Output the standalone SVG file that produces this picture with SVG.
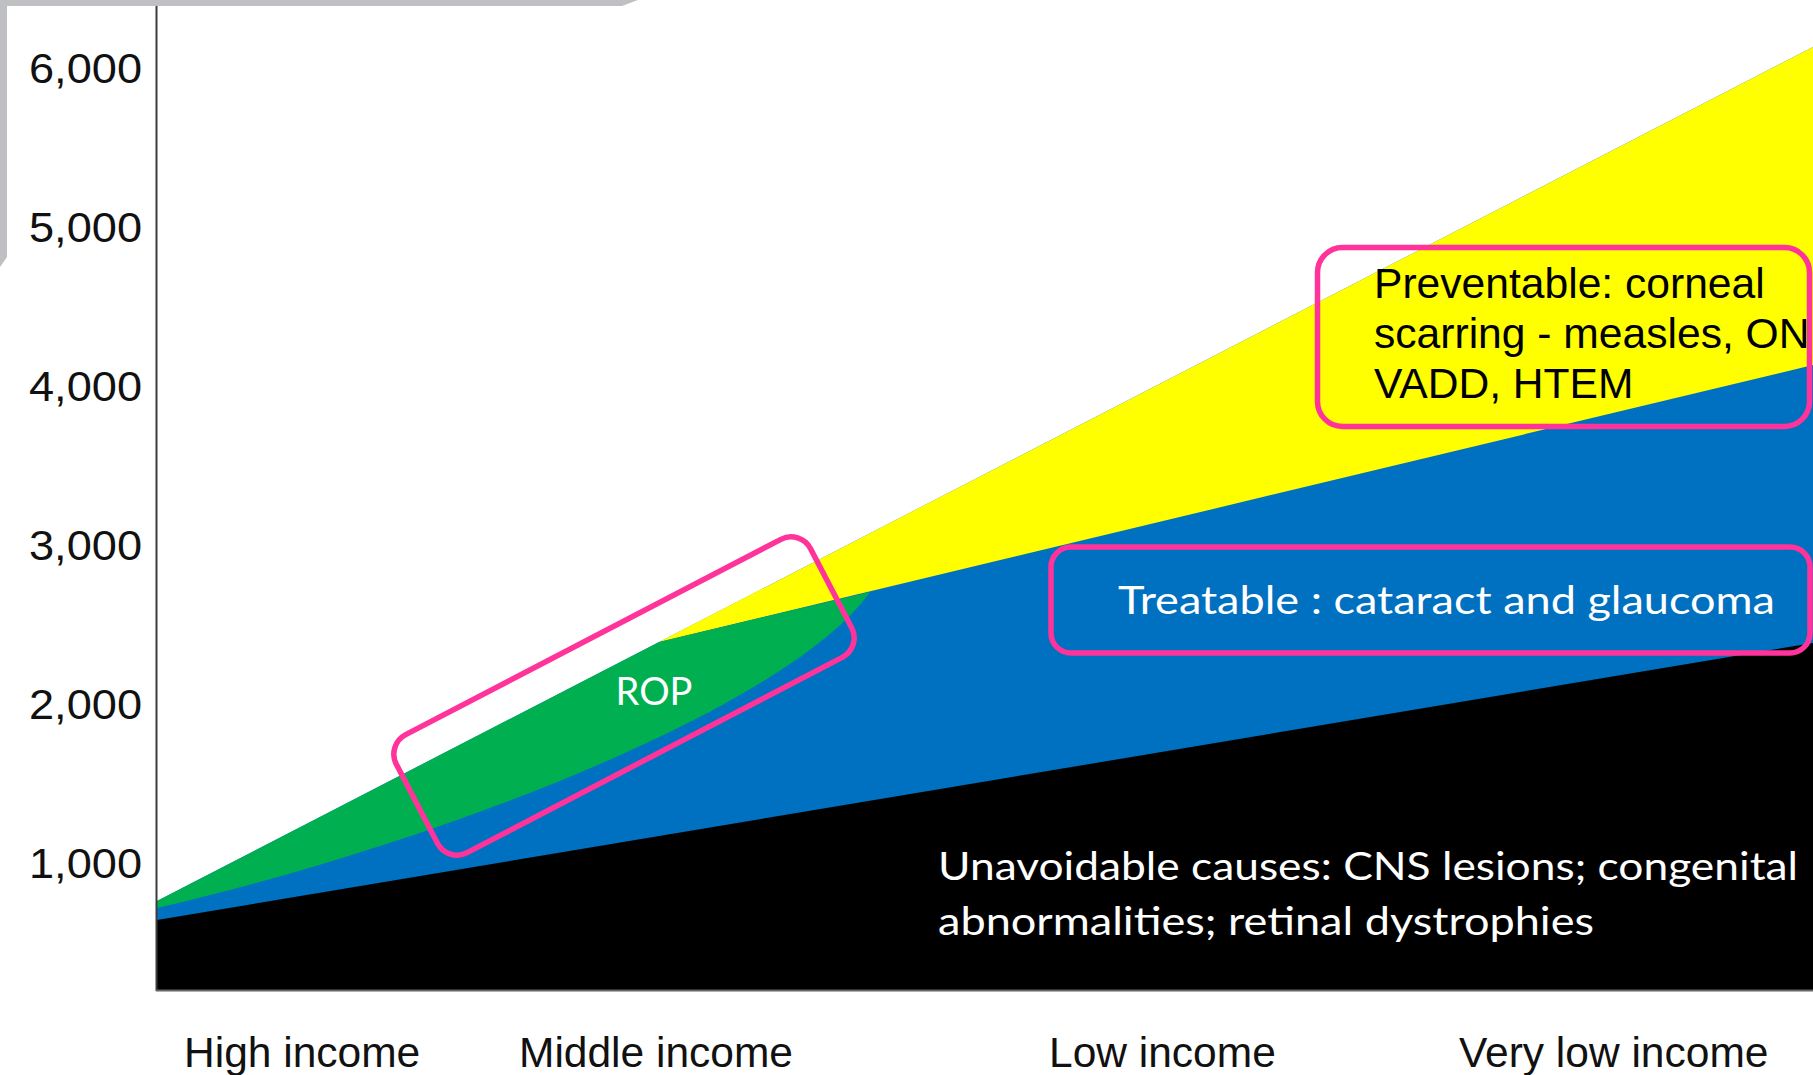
<svg xmlns="http://www.w3.org/2000/svg" width="1813" height="1075" viewBox="0 0 1813 1075">
  <style>
    .ax { font-family: "Liberation Sans", Arial, sans-serif; font-size: 42.5px; fill: #111; }
    .yl { font-family: "Liberation Sans", Arial, sans-serif; font-size: 42px; fill: #111; text-anchor: end; }
    .wt { font-family: Lato, "Open Sans", sans-serif; font-size: 38px; fill: #ffffff; }
    .bt { font-family: "Liberation Sans", Arial, sans-serif; font-size: 42.6px; fill: #000; }
    .hl { fill: none; stroke: #FF3399; stroke-width: 5.5; }
  </style>
  <rect x="0" y="0" width="1813" height="1075" fill="#ffffff"/>
  <polygon id="frame" points="0,0 638,0 622,6 7,6 7,257 0,267" fill="#BFC0C4"/>

  <g id="areas">
    <polygon id="blue" points="157,901 1813,47 1813,990 157,990" fill="#0070C0"/>
    <polygon id="yellow" points="659,642 1813,47 1813,365" fill="#FFFF00"/>
    <path id="green" d="M157,901 L659,642 L870,592 C790,705 450,840 157,908 Z" fill="#00B050"/>
    <polygon id="black" points="157,920 1813,643 1813,990 157,990" fill="#000000"/>
  </g>

  <g id="axes" stroke="#3c3c3c" stroke-width="2">
    <line x1="156.5" y1="6" x2="156.5" y2="991"/>
    <line x1="156" y1="990.5" x2="1813" y2="990.5" stroke="#666"/>
  </g>

  <g id="y-labels">
    <text class="yl" x="142" y="83" textLength="113" lengthAdjust="spacingAndGlyphs">6,000</text>
    <text class="yl" x="142" y="242" textLength="113" lengthAdjust="spacingAndGlyphs">5,000</text>
    <text class="yl" x="142" y="401" textLength="113" lengthAdjust="spacingAndGlyphs">4,000</text>
    <text class="yl" x="142" y="560" textLength="113" lengthAdjust="spacingAndGlyphs">3,000</text>
    <text class="yl" x="142" y="719" textLength="113" lengthAdjust="spacingAndGlyphs">2,000</text>
    <text class="yl" x="142" y="878" textLength="113" lengthAdjust="spacingAndGlyphs">1,000</text>
  </g>

  <g id="x-labels">
    <text class="ax" x="184" y="1067">High income</text>
    <text class="ax" x="519" y="1067">Middle income</text>
    <text class="ax" x="1049" y="1067">Low income</text>
    <text class="ax" x="1459" y="1067">Very low income</text>
  </g>

  <g id="rop">
    <rect class="hl" x="-233.5" y="-66.5" width="467" height="133" rx="22" transform="translate(624 696) rotate(-27.5)"/>
    <text class="wt" x="654" y="705" text-anchor="middle">ROP</text>
  </g>

  <g id="preventable">
    <rect class="hl" x="1317.5" y="247.5" width="492" height="179" rx="25"/>
    <text class="bt" x="1374" y="298">Preventable: corneal</text>
    <text class="bt" x="1374" y="348">scarring - measles, ON</text>
    <text class="bt" x="1374" y="398">VADD, HTEM</text>
  </g>

  <g id="treatable">
    <rect class="hl" x="1051" y="547" width="759" height="106" rx="20"/>
    <text class="wt" x="1118" y="614" textLength="657" lengthAdjust="spacingAndGlyphs">Treatable : cataract and glaucoma</text>
  </g>

  <g id="unavoidable">
    <text class="wt" x="938" y="880" textLength="860" lengthAdjust="spacingAndGlyphs">Unavoidable causes: CNS lesions; congenital</text>
    <text class="wt" x="938" y="935" textLength="656" lengthAdjust="spacingAndGlyphs">abnormalities; retinal dystrophies</text>
  </g>
</svg>
